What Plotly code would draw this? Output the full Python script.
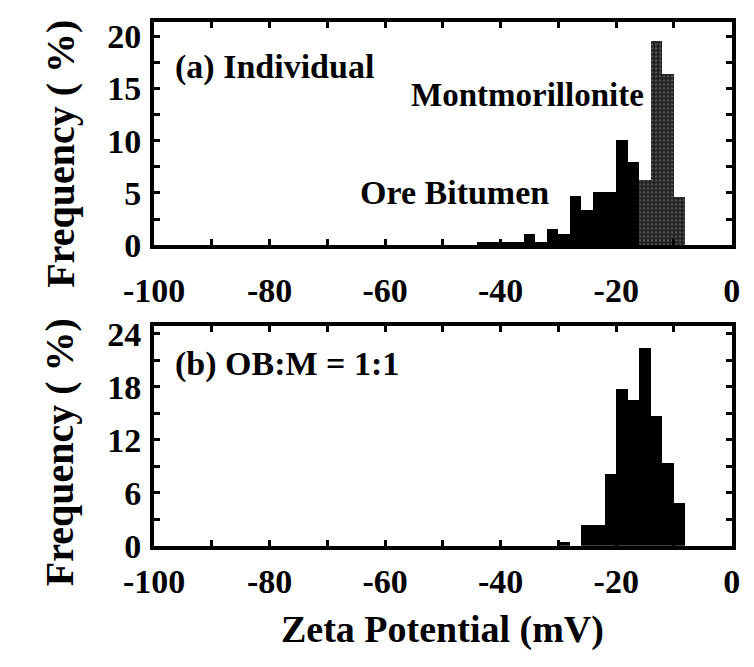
import plotly.graph_objects as go

# ---------------- data ----------------
ob_centers = [-43, -41, -39, -37, -35, -33, -31, -29, -27, -25, -23, -21, -19, -17]
ob_freq = [0.3, 0.3, 0.3, 0.3, 1.0, 0.3, 1.5, 1.0, 4.7, 3.3, 5.1, 5.1, 10.0, 7.9]

mont_centers = [-15, -13, -11, -9]
mont_freq = [6.2, 19.5, 16.3, 4.6]

mix_centers = [-29, -27, -25, -23, -21, -19, -17, -15, -13, -11, -9]
mix_freq = [0.4, 0.0, 2.4, 2.4, 8.2, 17.8, 16.5, 22.4, 14.7, 9.4, 4.9]

bin_width = 2

x_tickvals = [-100, -90, -80, -70, -60, -50, -40, -30, -20, -10, 0]
x_ticktext = ["-100", "", "-80", "", "-60", "", "-40", "", "-20", "", "0"]

ya_tickvals = [0, 2.5, 5, 7.5, 10, 12.5, 15, 17.5, 20]
ya_ticktext = ["0", "", "5", "", "10", "", "15", "", "20"]

yb_tickvals = [0, 3, 6, 9, 12, 15, 18, 21, 24]
yb_ticktext = ["0", "", "6", "", "12", "", "18", "", "24"]

# ---------------- figure ----------------
W, H = 754, 667
FONT = "Liberation Serif"

def px_x(p):
    return p / W

def px_y(p):
    return 1 - p / H

fig = go.Figure()

fig.add_trace(go.Bar(x=ob_centers, y=ob_freq, width=bin_width,
                     marker=dict(color="black", line=dict(width=0)),
                     xaxis="x", yaxis="y", showlegend=False))
fig.add_trace(go.Bar(x=mont_centers, y=mont_freq, width=bin_width,
                     marker=dict(color="#2a2a2a", line=dict(width=0),
                                 pattern=dict(shape=".", fgcolor="#b8b8b8",
                                              bgcolor="#222222", size=4,
                                              solidity=0.2)),
                     xaxis="x", yaxis="y", showlegend=False))
fig.add_trace(go.Bar(x=mix_centers, y=mix_freq, width=bin_width,
                     marker=dict(color="black", line=dict(width=0)),
                     xaxis="x2", yaxis="y2", showlegend=False))

tickfont = dict(family=FONT, size=34, color="black", weight="bold")

common_x = dict(range=[-100, 0], tickmode="array", tickvals=x_tickvals,
                ticktext=x_ticktext, ticks="inside", ticklen=6, tickwidth=3,
                tickcolor="black", showline=True, linewidth=4,
                linecolor="black", mirror="allticks", showgrid=False,
                zeroline=False, tickfont=tickfont)
common_y = dict(tickmode="array", ticks="inside", ticklen=6, tickwidth=3,
                tickcolor="black", showline=True, linewidth=4,
                linecolor="black", mirror="allticks", showgrid=False,
                zeroline=False, tickfont=tickfont, ticklabelstandoff=2)

fig.update_layout(
    width=W, height=H,
    margin=dict(l=0, r=0, t=0, b=0),
    paper_bgcolor="white", plot_bgcolor="white",
    barmode="overlay", bargap=0,
    xaxis=dict(domain=[px_x(130), px_x(740)], anchor="y",
               ticklabelstandoff=12, **common_x),
    yaxis=dict(domain=[px_y(246), px_y(13)], anchor="x", range=[0, 21.3],
               tickvals=ya_tickvals, ticktext=ya_ticktext, **common_y),
    xaxis2=dict(domain=[px_x(130), px_x(740)], anchor="y2",
                ticklabelstandoff=3, **common_x),
    yaxis2=dict(domain=[px_y(560), px_y(330)], anchor="x2", range=[0, 24.9],
                tickvals=yb_tickvals, ticktext=yb_ticktext, **common_y),
)

labfont = dict(family=FONT, size=34, color="black", weight="bold")

annotations = [
    dict(text="(a) Individual", x=px_x(150), y=px_y(60), xanchor="left",
         yanchor="middle"),
    dict(text="Montmorillonite", x=px_x(649), y=px_y(89), xanchor="right",
         yanchor="middle", font=dict(family=FONT, size=33, color="black",
                                     weight="bold")),
    dict(text="Ore Bitumen", x=px_x(345), y=px_y(191), xanchor="left",
         yanchor="middle"),
    dict(text="(b) OB:M = 1:1", x=px_x(150), y=px_y(370), xanchor="left",
         yanchor="middle"),
    dict(text="Zeta Potential (mV)", x=px_x(435), y=px_y(648),
         xanchor="center", yanchor="middle",
         font=dict(family=FONT, size=38, color="black", weight="bold")),
    dict(text="Frequency ( %)", x=px_x(31), y=px_y(150), xanchor="center",
         yanchor="middle", textangle=-90,
         font=dict(family=FONT, size=40, color="black", weight="bold")),
    dict(text="Frequency ( %)", x=px_x(31), y=px_y(462), xanchor="center",
         yanchor="middle", textangle=-90,
         font=dict(family=FONT, size=40, color="black", weight="bold")),
]
for a in annotations:
    a.update(xref="paper", yref="paper", showarrow=False)
    a.setdefault("font", labfont)
fig.update_layout(annotations=annotations)

fig.write_html("out.html")
